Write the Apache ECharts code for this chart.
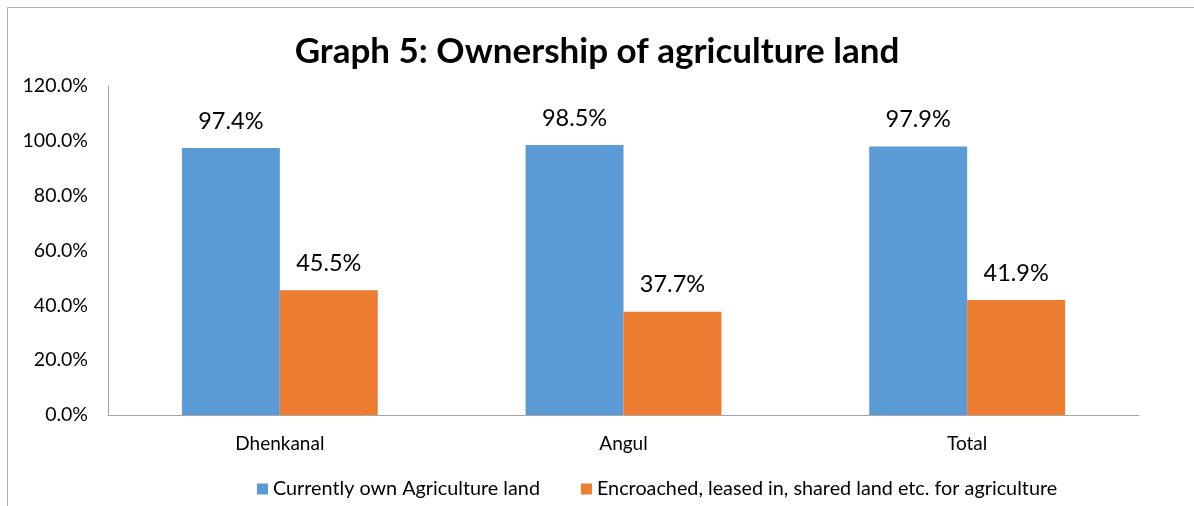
<!DOCTYPE html>
<html>
<head>
<meta charset="utf-8">
<script src="https://cdn.jsdelivr.net/npm/echarts@6/dist/echarts.min.js"></script>
<style>html,body{margin:0;padding:0;background:#fff}#c{width:1194px;height:506px}</style>
</head>
<body>
<div id="c"></div>
<script>
const categories = ['Dhenkanal', 'Angul', 'Total'];
const seriesNames = ['Currently own Agriculture land', 'Encroached, leased in, shared land etc. for agriculture'];
const ownLand = [97.4, 98.5, 97.9];
const encroached = [45.5, 37.7, 41.9];
const yTicks = [0, 20, 40, 60, 80, 100, 120];

const font = 'Lato, "Open Sans", sans-serif';
const chart = echarts.init(document.getElementById('c'));
chart.setOption({
  animation: false,
  backgroundColor: '#fff',
  graphic: [{
    type: 'polyline',
    shape: { points: [[7.5, 506], [7.5, 7.5], [1194, 7.5]] },
    style: { stroke: '#b0b0b0', lineWidth: 1, fill: null }
  }],
  title: {
    text: 'Graph 5: Ownership of agriculture land',
    left: 'center', top: 29,
    textStyle: { fontFamily: font, fontSize: 35, fontWeight: 'bold', color: '#000' }
  },
  legend: {
    bottom: 2, left: 252,
    itemWidth: 11, itemHeight: 11, itemGap: 41,
    icon: 'rect',
    textStyle: { fontFamily: font, fontSize: 19.8, color: '#000' },
    data: seriesNames
  },
  grid: { left: 108, right: 55, top: 86, bottom: 91 },
  xAxis: {
    type: 'category', data: categories,
    axisLine: { lineStyle: { color: '#a6a6a6' } },
    axisTick: { show: false },
    axisLabel: { fontFamily: font, fontSize: 19, color: '#000', margin: 19 }
  },
  yAxis: {
    type: 'value', min: 0, max: 120, interval: 20,
    axisLine: { show: true, lineStyle: { color: '#a6a6a6' } },
    axisTick: { show: false },
    splitLine: { show: false },
    axisLabel: {
      fontFamily: font, fontSize: 19.5, color: '#000', margin: 20,
      formatter: v => yTicks.includes(v) ? v.toFixed(1) + '%' : ''
    }
  },
  series: [
    {
      name: seriesNames[0], type: 'bar', data: ownLand,
      barGap: '0%', barCategoryGap: '43%',
      itemStyle: { color: '#5B9BD5' },
      label: { show: true, position: 'top', distance: 15, fontFamily: font, fontSize: 23.5, color: '#000', formatter: p => p.value.toFixed(1) + '%' }
    },
    {
      name: seriesNames[1], type: 'bar', data: encroached,
      itemStyle: { color: '#ED7D31' },
      label: { show: true, position: 'top', distance: 15, fontFamily: font, fontSize: 23.5, color: '#000', formatter: p => p.value.toFixed(1) + '%' }
    }
  ]
});
</script>
</body>
</html>
